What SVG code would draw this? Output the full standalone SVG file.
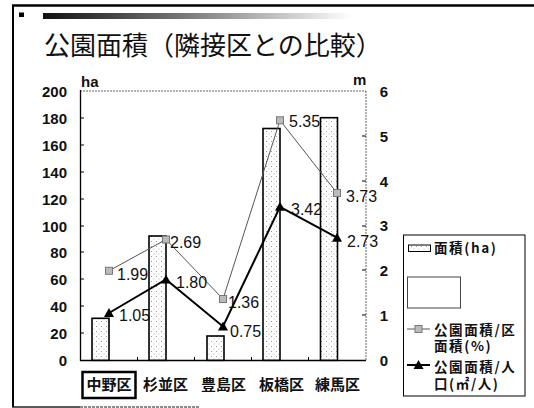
<svg xmlns="http://www.w3.org/2000/svg" width="534" height="408" viewBox="0 0 534 408">
<style>
.num{font-family:"Liberation Sans",Arial,sans-serif;font-size:16px;fill:#111}
.ax{font-family:"Liberation Sans",Arial,sans-serif;font-size:15px;font-weight:bold;fill:#111}
.jp{font-family:"Noto Sans CJK JP",sans-serif;fill:#111}
.lg{font-family:"Noto Sans CJK JP",sans-serif;fill:#111;font-size:13.5px;font-weight:bold;letter-spacing:1.6px}
.bar{fill:url(#dots);stroke:#000;stroke-width:1.6}
.pct{fill:none;stroke:#555;stroke-width:1}
.ppl{fill:none;stroke:#000;stroke-width:2}
.sq{fill:#bbb;stroke:#777;stroke-width:1}
.tri{fill:#000}
</style>
<defs>
<pattern id="dots" width="5" height="5" patternUnits="userSpaceOnUse">
<rect width="5" height="5" fill="#fff"/>
<rect x="1" y="1" width="1" height="1" fill="#999"/>
<rect x="3.5" y="3.5" width="1" height="1" fill="#bbb"/>
</pattern>
<linearGradient id="hdr" x1="0" y1="0" x2="1" y2="0">
<stop offset="0" stop-color="#111"/>
<stop offset="0.45" stop-color="#777"/>
<stop offset="1" stop-color="#fff"/>
</linearGradient>
<rect id="sqm" x="-3.5" y="-3.5" width="7" height="7" class="sq"/>
<path id="trim" d="M0,-5 L5,4 L-5,4 Z" class="tri"/>
</defs>

<g id="frame">
<line x1="12" y1="5.5" x2="534" y2="5.5" stroke="#000" stroke-width="2.5"/>
<line x1="13" y1="5" x2="13" y2="407" stroke="#000" stroke-width="2"/>
<line x1="12" y1="407" x2="80" y2="407" stroke="#222" stroke-width="1.5"/>
<line x1="80" y1="407" x2="200" y2="407" stroke="#666" stroke-width="1.5" stroke-dasharray="3 1"/>
<rect x="19" y="12.5" width="5" height="4.5" fill="#000"/>
<rect x="43" y="13" width="310" height="6" fill="url(#hdr)"/>
</g>

<g id="title">
<text x="44" y="55" class="jp" font-size="26">公園面積（隣接区との比較）</text>
</g>

<g id="axes">
<line x1="80" y1="91" x2="366" y2="91" stroke="#666" stroke-width="1" stroke-dasharray="2 1"/>
<line x1="366" y1="91" x2="366" y2="360" stroke="#666" stroke-width="1" stroke-dasharray="2 1"/>
<line x1="80.5" y1="90" x2="80.5" y2="361" stroke="#000" stroke-width="1.3"/>
<line x1="80" y1="360.5" x2="366" y2="360.5" stroke="#000" stroke-width="1.3"/>
<g stroke="#000" stroke-width="1">
<line x1="80" y1="118" x2="84" y2="118"/><line x1="80" y1="145" x2="84" y2="145"/>
<line x1="80" y1="172" x2="84" y2="172"/><line x1="80" y1="199" x2="84" y2="199"/>
<line x1="80" y1="226" x2="84" y2="226"/><line x1="80" y1="252" x2="84" y2="252"/>
<line x1="80" y1="279" x2="84" y2="279"/><line x1="80" y1="306" x2="84" y2="306"/>
<line x1="80" y1="333" x2="84" y2="333"/>
<line x1="362" y1="136" x2="366" y2="136"/><line x1="362" y1="181" x2="366" y2="181"/>
<line x1="362" y1="226" x2="366" y2="226"/><line x1="362" y1="270" x2="366" y2="270"/>
<line x1="362" y1="315" x2="366" y2="315"/>
<line x1="137.5" y1="357" x2="137.5" y2="360"/><line x1="194.5" y1="357" x2="194.5" y2="360"/>
<line x1="251.5" y1="357" x2="251.5" y2="360"/><line x1="308.5" y1="357" x2="308.5" y2="360"/>
</g>
<g class="ax" text-anchor="end">
<text x="67" y="97">200</text><text x="67" y="124">180</text><text x="67" y="151">160</text>
<text x="67" y="178">140</text><text x="67" y="205">120</text><text x="67" y="232">100</text>
<text x="67" y="258">80</text><text x="67" y="285">60</text><text x="67" y="312">40</text>
<text x="67" y="339">20</text><text x="67" y="366">0</text>
</g>
<g class="ax" text-anchor="middle">
<text x="384" y="97">6</text><text x="384" y="142">5</text><text x="384" y="187">4</text>
<text x="384" y="231">3</text><text x="384" y="276">2</text><text x="384" y="321">1</text>
<text x="384" y="366">0</text>
</g>
<text x="81" y="87" class="ax" font-size="12">ha</text>
<text x="353" y="85" class="ax" font-size="13">m</text>
</g>

<g id="bars">
<rect x="92" y="318.3" width="17" height="42" class="bar"/>
<rect x="149" y="236" width="17" height="124.3" class="bar"/>
<rect x="207" y="336" width="17" height="24.3" class="bar"/>
<rect x="263" y="128.5" width="17" height="231.8" class="bar"/>
<rect x="320.5" y="117.7" width="17" height="242.6" class="bar"/>
</g>

<g id="connectors">
<polyline class="pct" points="109,270.8 166,239.5 223,299 280,120.3 337,193"/>
<polyline class="ppl" points="109,313 166,279.4 223,326.4 280,206.8 337,237.7"/>
</g>

<g id="markers">
<use href="#sqm" x="109" y="270.8"/><use href="#sqm" x="166" y="239.5"/>
<use href="#sqm" x="223" y="299"/><use href="#sqm" x="280" y="120.3"/>
<use href="#sqm" x="337" y="193"/>
<use href="#trim" x="109" y="313"/><use href="#trim" x="166" y="279.4"/>
<use href="#trim" x="223" y="326.4"/><use href="#trim" x="280" y="206.8"/>
<use href="#trim" x="337" y="237.7"/>
</g>

<g id="labels" class="num">
<text x="117" y="280">1.99</text>
<text x="119" y="321">1.05</text>
<text x="170" y="248">2.69</text>
<text x="176" y="288">1.80</text>
<text x="228" y="308">1.36</text>
<text x="230" y="337">0.75</text>
<text x="289" y="127">5.35</text>
<text x="291" y="215">3.42</text>
<text x="346" y="202">3.73</text>
<text x="347" y="247">2.73</text>
</g>

<g id="categories" class="jp" font-size="15" font-weight="bold" text-anchor="middle">
<rect x="82.5" y="372" width="53" height="26" fill="none" stroke="#000" stroke-width="2.5"/>
<text x="109" y="390">中野区</text>
<text x="165.5" y="390">杉並区</text>
<text x="223.5" y="390">豊島区</text>
<text x="281.5" y="390">板橋区</text>
<text x="337.5" y="390">練馬区</text>
</g>

<g id="legend">
<rect x="403.5" y="235" width="121.5" height="161" fill="#fff" stroke="#000" stroke-width="1"/>
<rect x="408.5" y="245" width="22" height="6.5" fill="url(#dots)" stroke="#000" stroke-width="1"/>
<text x="434" y="252.5" class="lg" letter-spacing="0.5">面積(ha)</text>
<rect x="407.5" y="277" width="53" height="31" fill="#fff" stroke="#444" stroke-width="1"/>
<line x1="407" y1="329" x2="430" y2="329" class="pct"/>
<use href="#sqm" x="418.5" y="329"/>
<text class="lg"><tspan x="434" y="335">公園面積/区</tspan><tspan x="434" y="351">面積(%)</tspan></text>
<line x1="407" y1="365" x2="430" y2="365" class="ppl"/>
<use href="#trim" x="418.5" y="365"/>
<text class="lg"><tspan x="434" y="371.5">公園面積/人</tspan><tspan x="434" y="388.5">口(㎡/人)</tspan></text>
</g>
</svg>
